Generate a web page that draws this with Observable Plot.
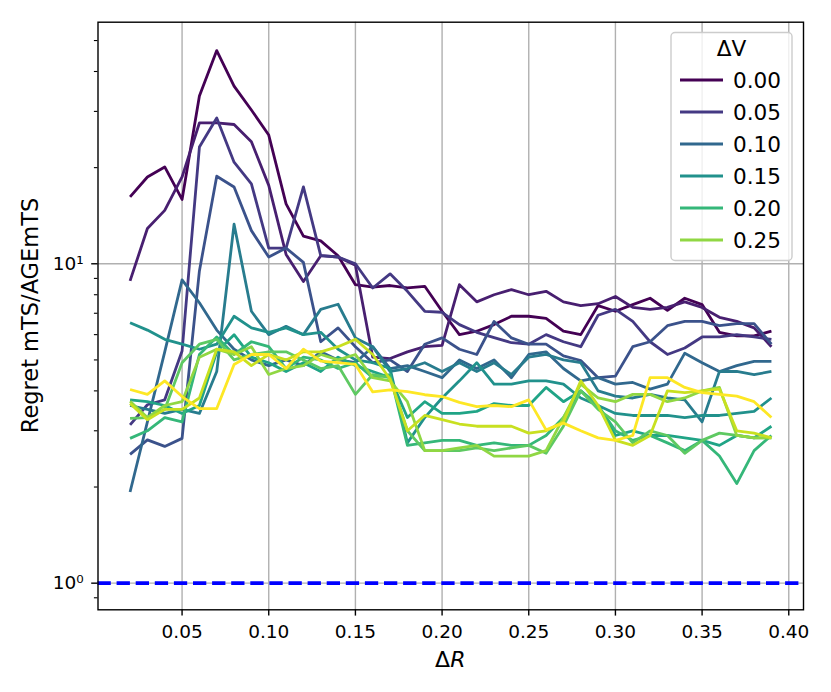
<!DOCTYPE html>
<html>
<head>
<meta charset="utf-8">
<script src="https://cdn.jsdelivr.net/npm/d3@7"></script>
<script src="https://cdn.jsdelivr.net/npm/@observablehq/plot@0.6"></script>
<style>
  html, body { margin: 0; padding: 0; background: white; }
  #chart { width: 831px; height: 692px; }
</style>
</head>
<body>
<div id="chart"></div>
<script>
// ΔR values (x)
const dR = [0.02,0.03,0.04,0.05,0.06,0.07,0.08,0.09,0.10,0.11,
            0.12,0.13,0.14,0.15,0.16,0.17,0.18,0.19,0.20,0.21,
            0.22,0.23,0.24,0.25,0.26,0.27,0.28,0.29,0.30,0.31,
            0.32,0.33,0.34,0.35,0.36,0.37,0.38,0.39];

// ΔV of each line
const dV = [0.000,0.025,0.050,0.075,0.100,0.125,0.150,0.175,0.200,0.225,0.250,0.275,0.300];

const r000 = [16.2,18.7,20.1,15.9,33.5,46.5,36.0,30.3,25.3,15.4,
              12.2,11.8,10.6,8.6,8.45,8.55,8.4,8.5,7.1,6.0,
              6.15,6.45,6.85,6.85,6.75,6.15,6.0,7.4,7.1,7.45,
              7.8,7.15,7.8,7.45,6.1,5.95,5.95,6.15];
const r025 = [8.84,12.9,14.7,18.7,27.6,27.6,27.3,24.1,17.6,10.7,
              8.8,10.6,10.5,9.9,5.1,5.05,5.3,5.5,5.55,8.6,
              7.6,8.0,8.3,8.0,8.2,7.6,7.4,7.5,7.9,7.3,
              7.2,7.3,7.6,7.3,6.8,6.6,6.3,5.5];
const r050 = [3.13,3.62,3.75,5.33,23.2,28.6,20.8,17.8,11.2,11.2,
              17.4,10.6,10.5,10.0,8.4,9.3,8.2,7.1,7.05,6.45,
              6.1,5.87,5.66,5.6,6.0,5.7,5.5,6.9,7.2,6.6,
              5.7,5.2,5.45,5.9,5.9,6.0,5.9,5.8];
const r075 = [2.53,2.81,2.68,2.84,9.5,18.8,17.4,12.7,10.5,11.2,
              10.1,5.7,6.3,5.5,4.9,5.0,4.6,5.6,5.86,5.4,
              5.2,6.6,5.86,5.6,5.6,5.15,4.98,4.4,4.45,5.5,
              5.7,6.4,6.6,6.6,6.4,6.5,6.5,5.6];
const r100 = [1.93,3.2,5.3,8.9,7.55,6.2,5.4,5.0,4.8,5.0,
              4.8,5.3,5.0,4.9,5.5,4.7,4.8,4.6,4.4,5.0,
              4.7,5.0,4.4,5.2,5.3,4.7,4.3,4.4,4.2,4.25,
              4.05,4.2,5.25,4.9,4.6,4.8,4.95,4.95];
const r125 = [3.6,3.5,3.4,3.5,3.4,4.6,13.3,7.1,6.0,6.37,
              6.0,7.2,7.47,5.86,5.5,4.6,4.7,4.9,4.6,4.9,
              4.6,4.9,4.5,5.1,5.2,5.0,4.9,4.0,3.85,3.8,
              3.9,3.8,3.75,3.2,4.6,4.6,4.5,4.6];
const r150 = [6.54,6.2,5.8,5.6,5.4,5.6,6.85,6.3,6.1,6.3,
              6.0,6.1,5.4,5.0,4.9,4.7,2.75,3.3,3.8,4.3,
              4.9,4.2,4.2,4.3,4.3,4.2,3.8,3.6,3.4,3.35,
              3.35,3.35,3.3,3.35,3.35,3.4,3.45,3.8];
const r175 = [3.75,3.7,3.6,3.4,3.6,5.3,6.0,5.1,4.9,4.6,
              4.9,4.6,5.1,4.8,4.6,4.4,3.3,3.7,3.4,3.4,
              3.45,3.65,3.6,3.6,4.1,3.7,4.0,3.6,2.9,3.0,
              2.9,2.9,2.85,2.8,2.7,2.9,2.85,3.1];
const r200 = [2.84,3.0,3.3,3.2,5.2,5.9,5.2,5.7,5.5,4.7,
              5.1,5.0,4.7,4.9,4.4,4.5,2.7,2.75,2.8,2.8,
              2.7,2.75,2.7,2.7,2.9,3.3,4.0,3.6,3.0,2.8,
              2.9,2.75,2.6,2.8,2.5,2.05,2.6,2.9];
const r225 = [3.28,3.3,3.5,4.9,5.6,5.8,5.0,5.2,5.3,5.3,
              5.0,4.7,4.8,3.9,4.5,4.4,3.0,2.6,2.6,2.6,
              2.65,2.6,2.65,2.7,2.55,3.1,4.0,3.5,3.2,2.75,
              3.0,2.9,2.55,2.8,2.95,2.9,2.85,2.85];
const r250 = [3.71,3.3,3.6,3.7,5.1,5.4,5.2,5.5,4.5,4.7,
              4.8,5.2,5.0,5.2,4.4,4.3,3.7,2.6,2.6,2.65,
              2.7,2.5,2.5,2.5,2.6,3.3,4.2,3.8,3.7,3.9,
              3.9,3.7,3.8,4.0,4.1,2.9,2.85,2.85];
const r275 = [3.65,3.25,3.5,3.5,3.8,5.4,5.3,4.8,5.2,5.0,
              5.3,5.3,5.5,5.8,5.2,4.35,3.0,3.35,3.25,3.15,
              3.1,3.1,3.1,2.95,3.0,3.2,4.3,3.6,2.8,2.7,
              2.9,4.0,3.95,4.0,4.05,3.0,2.95,2.85];
const r300 = [4.04,3.9,4.3,3.84,3.52,3.52,4.84,5.2,5.2,4.7,
              5.4,4.96,4.9,4.84,3.97,4.03,3.98,3.89,3.84,3.68,
              3.57,3.6,3.57,3.75,3.02,3.17,3.0,2.85,2.8,2.9,
              4.4,4.4,4.1,3.95,3.9,3.85,3.7,3.3];

const seriesValues = [r000,r025,r050,r075,r100,r125,r150,r175,r200,r225,r250,r275,r300];

const legendDV = [0.00,0.05,0.10,0.15,0.20,0.25];
const legendLabels = ["0.00","0.05","0.10","0.15","0.20","0.25"];
const xTicks = [0.05,0.10,0.15,0.20,0.25,0.30,0.35,0.40];
const yMajor = [1,10];
const yMajorLabels = ["10⁰","10¹"];
const yMinor = [0.9,2,3,4,5,6,7,8,9,20,30,40,50];
const baseline = [1];

const colorOf = v => d3.interpolateViridis(v / 0.3);

const rows = dV.flatMap((v, i) => dR.map((x, j) => ({dv: v, x, y: seriesValues[i][j], c: colorOf(v)})));

const W = 831, H = 692;
const mL = 97.5, mR = 28, mT = 21.7, mB = 82.7;

const chart = Plot.plot({
  width: W, height: H,
  marginLeft: mL, marginRight: mR, marginTop: mT, marginBottom: mB,
  style: {fontFamily: "DejaVu Sans", background: "white", color: "black", overflow: "visible"},
  x: {domain: [0.0015, 0.4085]},
  y: {type: "log", domain: [0.8253, 57.07]},
  color: {type: "identity"},
  marks: [
    Plot.gridX(xTicks, {stroke: "#b0b0b0", strokeOpacity: 1, strokeWidth: 1.4}),
    Plot.gridY(yMajor, {stroke: "#b0b0b0", strokeOpacity: 1, strokeWidth: 1.4}),
    Plot.line(rows, {x: "x", y: "y", z: "dv", stroke: "c", strokeWidth: 2.8, strokeLinejoin: "round", strokeLinecap: "butt"}),
    Plot.ruleY(baseline, {stroke: "blue", strokeWidth: 3.6, strokeDasharray: "13.3,5.8"}),
    Plot.axisX(xTicks, {tickSize: 6.3, tickPadding: 9, fontSize: 18.5, tickFormat: d3.format(".2f"), label: null, strokeWidth: 1.4}),
    Plot.axisY(yMajor, {tickSize: 6.3, tickPadding: 8, fontSize: 18.5, tickFormat: d => yMajorLabels[yMajor.indexOf(d)], label: null, strokeWidth: 1.4}),
    Plot.axisY(yMinor, {tickSize: 3.6, tickFormat: () => "", label: null, strokeWidth: 1.1}),
    Plot.frame({stroke: "black", strokeWidth: 1.4})
  ]
});

document.getElementById("chart").appendChild(chart);

// Axis labels and legend
const svg = d3.select(chart);
svg.append("text")
  .attr("transform", `translate(37.5,${(mT + (H - mB)) / 2}) rotate(-90)`)
  .attr("text-anchor", "middle")
  .attr("font-size", 22.5)
  .attr("font-family", "DejaVu Sans")
  .attr("fill", "black")
  .text("Regret mTS/AGEmTS");

const xl = svg.append("text")
  .attr("x", (mL + (W - mR)) / 2)
  .attr("y", 667)
  .attr("text-anchor", "middle")
  .attr("font-size", 22)
  .attr("font-family", "DejaVu Sans")
  .attr("fill", "black");
xl.append("tspan").text("Δ");
xl.append("tspan").attr("font-style", "italic").text("R");

const lg = svg.append("g");
const lx = 671, ly = 32.5, lw = 121, lh = 228;
lg.append("rect")
  .attr("x", lx).attr("y", ly).attr("width", lw).attr("height", lh)
  .attr("rx", 4).attr("ry", 4)
  .attr("fill", "white").attr("fill-opacity", 0.8)
  .attr("stroke", "#cccccc").attr("stroke-width", 1.4);
lg.append("text")
  .attr("x", lx + lw / 2).attr("y", 56)
  .attr("text-anchor", "middle")
  .attr("font-size", 21.6).attr("font-family", "DejaVu Sans").attr("fill", "black")
  .text("ΔV");
legendDV.forEach((v, i) => {
  const yy = 80 + i * 32;
  lg.append("line")
    .attr("x1", 680).attr("x2", 723).attr("y1", yy).attr("y2", yy)
    .attr("stroke", colorOf(v)).attr("stroke-width", 2.8);
  lg.append("text")
    .attr("x", 733).attr("y", yy + 7.9)
    .attr("text-anchor", "start")
    .attr("font-size", 21.6).attr("font-family", "DejaVu Sans").attr("fill", "black")
    .text(legendLabels[i]);
});
</script>
</body>
</html>
